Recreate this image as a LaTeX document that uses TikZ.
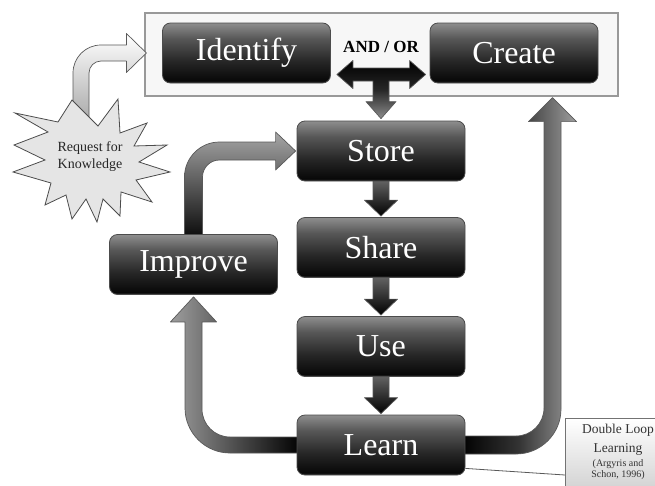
\documentclass[tikz,border=0pt]{standalone}
\usepackage{fontspec}
\setmainfont{Liberation Serif}
\usetikzlibrary{calc}
\definecolor{bA}{HTML}{333333}
\definecolor{bB}{HTML}{080808}
\definecolor{bC}{HTML}{262626}
\definecolor{bD}{HTML}{575757}
\definecolor{bE}{HTML}{8E8E8E}
\pgfdeclareverticalshading{btnshade}{100bp}{color(0bp)=(bA); color(25bp)=(bA); color(27bp)=(bB); color(43bp)=(bC); color(62bp)=(bD); color(75bp)=(bE); color(100bp)=(bE)}
\pgfdeclarelayer{back}
\pgfdeclarelayer{mid}
\pgfsetlayers{back,mid,main}
\newcommand\fatdown[2]{%
  \shade[fat, top color=black!60, bottom color=black]
    ($(#1.south)+(-8,-2)$) -- ($(#2.north)+(-8,-17)$) -- ($(#2.north)+(-16.5,-17)$)
    -- ($(#2.north)+(0,-1)$) -- ($(#2.north)+(16.5,-17)$) -- ($(#2.north)+(8,-17)$)
    -- ($(#1.south)+(8,-2)$) -- cycle;}
\begin{document}
\begin{tikzpicture}[x=1pt,y=-1pt,
  btn/.style={rounded corners=8, draw=black!70, line width=0.8, shade, shading=btnshade,
    minimum width=168, minimum height=60, inner sep=0, text=white,
    font=\fontsize{32}{36}\selectfont},
  fat/.style={draw=black!65, line width=0.7, line join=round},
  dltext/.style={text=black!80, inner sep=0, anchor=base}]
\useasboundingbox (0,0) rectangle (655,485);
\begin{pgfonlayer}{back}
  \fill[white] (0,0) rectangle (655,485);
  \node[draw=black!40, fill=black!3, line width=1.2, minimum width=473, minimum height=83, inner sep=0] (grp) at (381.5,54.5) {};
\end{pgfonlayer}

% process boxes
\node[btn] (identify) at (246.5,53) {Identify};
\node[btn] (create) at (514,53) {Create};
\node[btn] (store) at (381,151) {Store};
\node[btn] (share) at (381,247.5) {Share};
\node[btn] (use) at (381,346.5) {Use};
\node[btn] (learn) at (381,445) {Learn};
\node[btn] (improve) at (193.5,264.5) {Improve};
\node[font=\bfseries\fontsize{17}{20}\selectfont, inner sep=0] (andor) at (381,47) {AND / OR};

% starburst
\filldraw[fill=black!10, draw=black!70, line width=0.8, line join=miter]
  (15,113) -- (58,122) -- (72,100) -- (98,126) -- (118,99) -- (120,133) -- (147,123)
  -- (134,146) -- (167,145) -- (139,162) -- (170,172) -- (136,180) -- (152,202)
  -- (121,192) -- (120,216) -- (103,199) -- (97,222) -- (86,199) -- (72,219)
  -- (66,195) -- (45,205) -- (51,183) -- (13,172) -- (45,160) -- (14,145)
  -- (48,132) -- cycle;
\node[font=\fontsize{14}{17}\selectfont, align=center, text=black!85, inner sep=0] (req) at (90,157) {Request for\\Knowledge};

% double loop callout
\node[draw=black!55, top color=white, bottom color=black!22, line width=0.8,
  minimum width=120, minimum height=90, anchor=north west, inner sep=0] (dll) at (565,418) {};
\node[dltext, font=\fontsize{13.5}{15}\selectfont] (dl1) at (618,433) {Double Loop};
\node[dltext, font=\fontsize{13.5}{15}\selectfont] (dl2) at (618,452) {Learning};
\node[dltext, font=\fontsize{10}{11}\selectfont] (dl3) at (618,466) {(Argyris and};
\node[dltext, font=\fontsize{10}{11}\selectfont] (dl4) at (618,477) {Schon, 1996)};

\begin{pgfonlayer}{mid}
  % request -> identify group
  \coordinate (rq) at ($(req.center)+(-9,0)$);
  \coordinate (rk) at (rq |- identify.west);
  \coordinate (rt) at ($(grp.west |- rk)+(2,0)$);
  \shade[fat, top color=white, bottom color=black!40]
    ($(rq)+(-8,-20)$) -- ($(rk)+(-8,20)$)
    .. controls ($(rk)+(-8,4.5)$) and ($(rk)+(4.5,-8)$) .. ($(rk)+(20,-8)$)
    -- ($(rt)+(-20,-8)$) -- ($(rt)+(-20,-19.5)$) -- (rt) -- ($(rt)+(-20,19.5)$)
    -- ($(rt)+(-20,8)$) -- ($(rk)+(20,8)$)
    .. controls ($(rk)+(13.4,8)$) and ($(rk)+(8,13.4)$) .. ($(rk)+(8,20)$)
    -- ($(rq)+(8,-20)$) -- cycle;

  % AND / OR double arrow with drop to store
  \coordinate (aol) at ($(identify.east)+(6,21.5)$);
  \coordinate (aor) at ($(create.west)+(-4,21.5)$);
  \coordinate (aod) at (store.north |- aol);
  \shade[fat, top color=black, bottom color=black!45, middle color=black!85]
    (aol) -- ($(aol)+(16,-14)$) -- ($(aol)+(16,-6.5)$) -- ($(aor)+(-16,-6.5)$)
    -- ($(aor)+(-16,-14)$) -- (aor) -- ($(aor)+(-16,14)$) -- ($(aor)+(-16,6.5)$)
    -- ($(aod)+(8,6.5)$) -- ($(store.north)+(8,-19)$) -- ($(store.north)+(15,-19)$)
    -- ($(store.north)+(0,-2)$) -- ($(store.north)+(-15,-19)$) -- ($(store.north)+(-8,-19)$)
    -- ($(aod)+(-8,6.5)$) -- ($(aol)+(16,6.5)$) -- ($(aol)+(16,14)$) -- cycle;

  % main chain
  \fatdown{store}{share}
  \fatdown{share}{use}
  \fatdown{use}{learn}

  % improve -> store
  \coordinate (bk) at (improve.north |- store.west);
  \coordinate (bt) at ($(store.west)+(-1,0)$);
  \shade[fat, top color=black!35, bottom color=black!95]
    ($(improve.north)+(-9,2)$) -- ($(bk)+(-9,26)$)
    .. controls ($(bk)+(-9,6.7)$) and ($(bk)+(6.7,-9)$) .. ($(bk)+(26,-9)$)
    -- ($(bt)+(-20,-9)$) -- ($(bt)+(-20,-19)$) -- (bt) -- ($(bt)+(-20,19)$)
    -- ($(bt)+(-20,9)$) -- ($(bk)+(26,9)$)
    .. controls ($(bk)+(16.6,9)$) and ($(bk)+(9,16.6)$) .. ($(bk)+(9,26)$)
    -- ($(improve.north)+(9,2)$) -- cycle;

  % learn -> improve
  \coordinate (ck) at (improve.south |- learn.west);
  \coordinate (ct) at ($(improve.south)+(0,2)$);
  \shade[fat, left color=black!38, right color=black, middle color=black!70]
    ($(learn.west)+(5,-8)$) -- ($(ck)+(36.5,-8)$)
    .. controls ($(ck)+(21,-8)$) and ($(ck)+(8.5,-20.5)$) .. ($(ck)+(8.5,-36)$)
    -- ($(ct)+(8.5,25)$) -- ($(ct)+(23,25)$) -- (ct) -- ($(ct)+(-23,25)$)
    -- ($(ct)+(-8.5,25)$) -- ($(ck)+(-8.5,-37)$)
    .. controls ($(ck)+(-8.5,-12.2)$) and ($(ck)+(11.7,8)$) .. ($(ck)+(36.5,8)$)
    -- ($(learn.west)+(5,8)$) -- cycle;

  % learn -> create (double loop)
  \coordinate (dx) at ($(create.south)+(38.5,0)$);
  \coordinate (dk) at (dx |- learn.east);
  \coordinate (dt) at ($(dx |- grp.south)+(0,1)$);
  \shade[fat, left color=black, right color=black!38, middle color=black!80]
    ($(learn.east)+(-5,-9)$) -- ($(dk)+(-36.5,-9)$)
    .. controls ($(dk)+(-21,-9)$) and ($(dk)+(-8.5,-21.5)$) .. ($(dk)+(-8.5,-37)$)
    -- ($(dt)+(-8.5,24)$) -- ($(dt)+(-24,24)$) -- (dt) -- ($(dt)+(24,24)$)
    -- ($(dt)+(8.5,24)$) -- ($(dk)+(8.5,-36)$)
    .. controls ($(dk)+(8.5,-11.2)$) and ($(dk)+(-11.7,9)$) .. ($(dk)+(-36.5,9)$)
    -- ($(learn.east)+(-5,9)$) -- cycle;

  % callout pointer
  \coordinate (dlin) at ($(dll.north west)+(0,57)$);
  \draw[black!65, line width=0.8] ($(learn.south east)+(0,-7)$) -- (dlin);
\end{pgfonlayer}
\end{tikzpicture}
\end{document}
